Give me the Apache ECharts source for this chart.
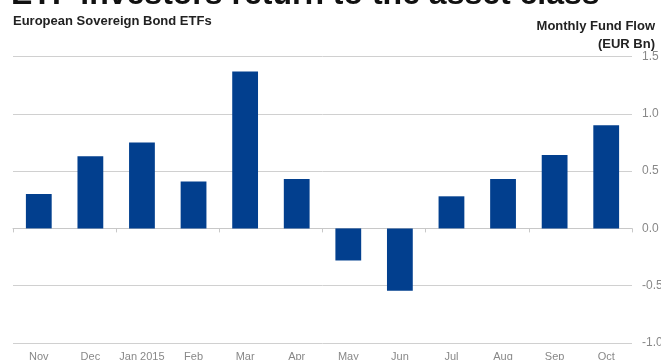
<!DOCTYPE html>
<html><head><meta charset="utf-8">
<script src="https://cdn.jsdelivr.net/npm/echarts@6/dist/echarts.min.js"></script>
<style>html,body{margin:0;padding:0;background:#fff}#c{width:661px;height:360px}</style>
</head><body><div id="c"></div>
<script>
var categories = ['Nov','Dec','Jan 2015','Feb','Mar','Apr','May','Jun','Jul','Aug','Sep','Oct'];
var flows = [0.30, 0.63, 0.75, 0.41, 1.37, 0.43, -0.28, -0.545, 0.28, 0.43, 0.64, 0.90];
var yTicks = [-1.0, -0.5, 0.0, 0.5, 1.0, 1.5];
var titleText = 'ETF investors return to the asset class';
var subtitleText = 'European Sovereign Bond ETFs';
var unitText = ['Monthly Fund Flow', '(EUR Bn)'];

var chart = echarts.init(document.getElementById('c'));
chart.setOption({
  animation:false,
  backgroundColor:'#fff',
  graphic:[
    {type:'text', left:11, top:-21, style:{text:titleText, fontFamily:'Liberation Sans', fontWeight:'bold', fontSize:32, fill:'#111'}},
    {type:'text', left:13, top:15, style:{text:subtitleText, fontFamily:'Liberation Sans', fontWeight:'bold', fontSize:13, fill:'#222'}},
    {type:'text', right:6, top:20, style:{text:unitText[0], fontFamily:'Liberation Sans', fontWeight:'bold', fontSize:13, fill:'#222', align:'right'}},
    {type:'text', right:6, top:38, style:{text:unitText[1], fontFamily:'Liberation Sans', fontWeight:'bold', fontSize:13, fill:'#222', align:'right'}}
  ],
  grid:{left:13, right:29, top:56.5, bottom:17, containLabel:false, outerBoundsMode:'none'},
  xAxis:[
    {type:'category', data:categories, position:'bottom',
     axisLine:{show:false, onZero:false}, axisTick:{show:false},
     axisLabel:{color:'#888', fontFamily:'Liberation Sans', fontSize:11, margin:8, interval:0}},
    {type:'category', data:categories, position:'bottom',
     axisLine:{show:true, onZero:true, lineStyle:{color:'#c8c8c8', width:1}},
     axisTick:{show:true, length:4, lineStyle:{color:'#c8c8c8'}},
     axisLabel:{show:false}}
  ],
  yAxis:{type:'value', position:'right', min:yTicks[0], max:yTicks[yTicks.length-1], interval:0.5,
    axisLine:{show:false}, axisTick:{show:false},
    splitLine:{lineStyle:{color:'#d0d0d0', width:1}},
    axisLabel:{color:'#888', fontFamily:'Liberation Sans', fontSize:12, margin:10,
      formatter:function(v){return v.toFixed(1);}}},
  series:[{type:'bar', data:flows, barWidth:'50%', itemStyle:{color:'#023f8e'}}]
});
</script></body></html>
